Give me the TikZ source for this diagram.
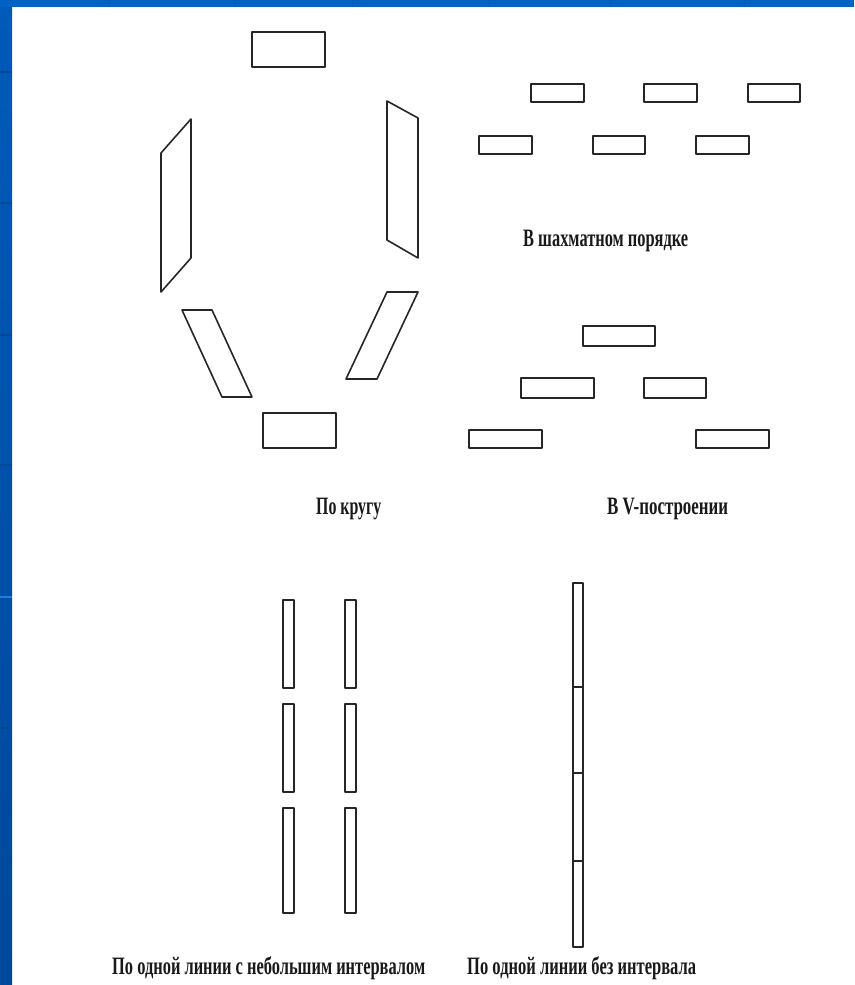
\documentclass[tikz,border=0pt]{standalone}
\usepackage{fontspec}
\setmainfont{Liberation Serif}
\usepackage{graphicx}
\definecolor{bandtop}{HTML}{0062C2}
\definecolor{bandA}{HTML}{005ABA}
\definecolor{bandB}{HTML}{00489A}
\definecolor{seam}{HTML}{004A94}
\definecolor{seamlight}{HTML}{1E7FE0}
\begin{document}
\begin{tikzpicture}[x=1pt,y=-1pt,
  shp/.style={draw=black!85, line width=1.6pt, line join=round},
  lbl/.style={anchor=base west, inner sep=0pt, font=\bfseries\fontsize{25}{25}\selectfont, text=black!90},
  seamline/.style={line width=1.5pt}]
\useasboundingbox (0,0) rectangle (854,985);
\fill[white] (0,0) rectangle (854,985);
% blue frame
\shade[top color=bandA, bottom color=bandB] (0,0) rectangle (12,985);
\fill[bandtop] (0,0) rectangle (854,7);
\foreach \yy in {72,203,335,465,728,859} \draw[seam, seamline] (0,\yy) -- (12,\yy);
\draw[seamlight, seamline] (0,597) -- (12,597);
\foreach \xx in {108,235,352,489,610,744} \draw[bandA, line width=1pt] (\xx,0) -- (\xx,7);

% По кругу
\draw[shp] (252,32) rectangle (325,67);
\draw[shp] (263,413) rectangle (336,448);
\draw[shp] (161,153) -- (191,119) -- (191,258) -- (161,292) -- cycle;
\draw[shp] (387,101) -- (418,118) -- (418,258) -- (387,240) -- cycle;
\draw[shp] (182,310) -- (212,310) -- (252,397) -- (222,397) -- cycle;
\draw[shp] (387,292) -- (418,292) -- (377,379) -- (346,379) -- cycle;

% В шахматном порядке
\draw[shp] (531,84) rectangle (584,102);
\draw[shp] (644,84) rectangle (697,102);
\draw[shp] (748,84) rectangle (800,102);
\draw[shp] (479,136) rectangle (532,154);
\draw[shp] (593,136) rectangle (645,154);
\draw[shp] (696,136) rectangle (749,154);

% В V-построении
\draw[shp] (583,326) rectangle (655,346);
\draw[shp] (521,378) rectangle (594,398);
\draw[shp] (644,378) rectangle (706,398);
\draw[shp] (469,430) rectangle (542,448);
\draw[shp] (696,430) rectangle (769,448);

% По одной линии с небольшим интервалом
\draw[shp] (283,600) rectangle (294,688);
\draw[shp] (283,704) rectangle (294,792);
\draw[shp] (283,808) rectangle (294,913);
\draw[shp] (345,600) rectangle (356,688);
\draw[shp] (345,704) rectangle (356,792);
\draw[shp] (345,808) rectangle (356,913);

% По одной линии без интервала
\draw[shp] (573,583) rectangle (583,947);
\draw[shp] (573,687) -- (583,687);
\draw[shp] (573,773) -- (583,773);
\draw[shp] (573,861) -- (583,861);

% labels
\node[lbl] (lchess) at (523,246) {\resizebox{165pt}{\height}{В шахматном порядке}};
\node[lbl] (lcircle) at (316,514) {\resizebox{65pt}{\height}{По кругу}};
\node[lbl] (lvee) at (607,514) {\resizebox{121pt}{\height}{В V-построении}};
\node[lbl] (lgap) at (112,974) {\resizebox{313pt}{\height}{По одной линии с небольшим интервалом}};
\node[lbl] (lnogap) at (467,974) {\resizebox{229pt}{\height}{По одной линии без интервала}};
\end{tikzpicture}
\end{document}
